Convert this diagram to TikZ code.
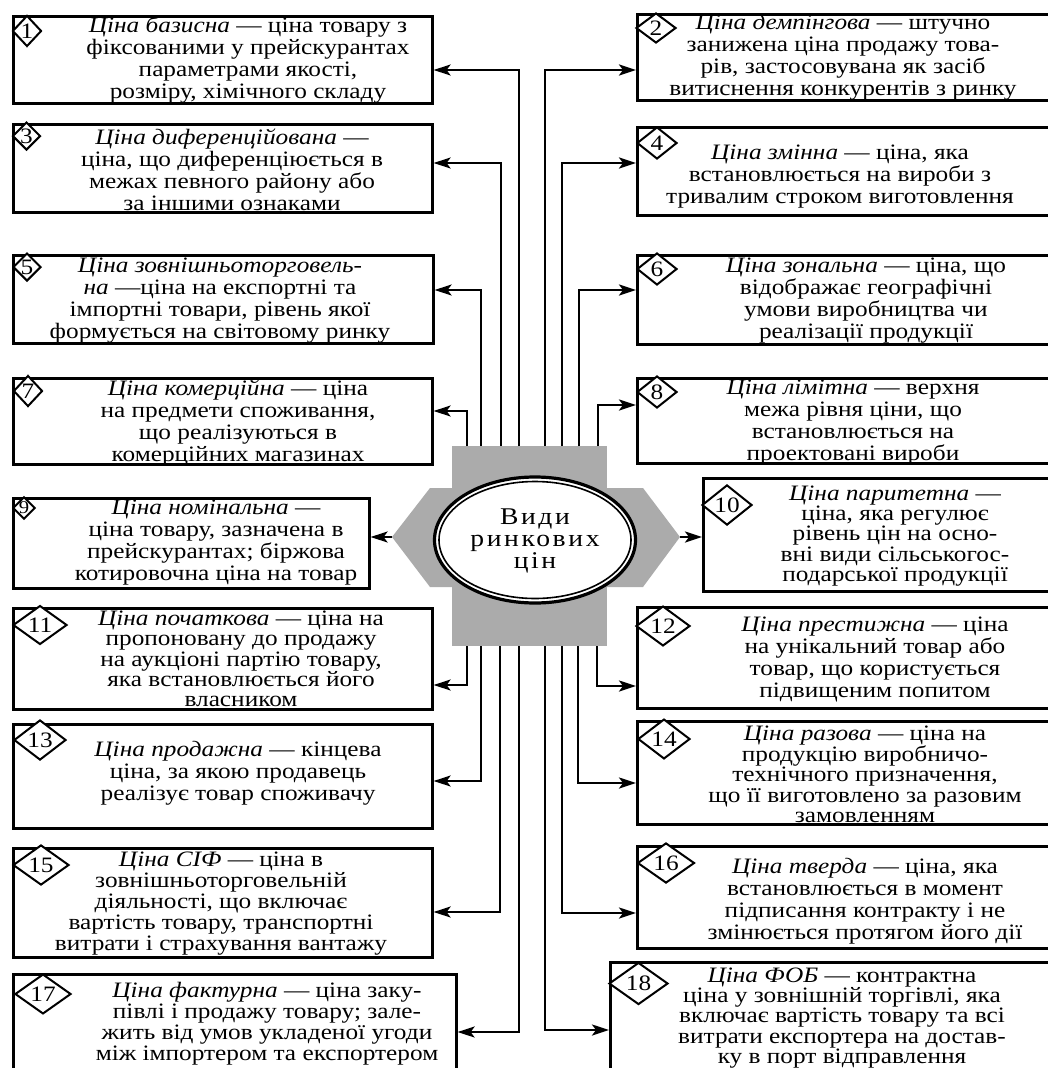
\documentclass[tikz,border=0pt]{standalone}
\usepackage{fontspec}
\setmainfont{Liberation Serif}[FakeStretch=1.15]
\usetikzlibrary{arrows.meta,shapes.geometric}
\definecolor{greyc}{HTML}{ABABAB}
\begin{document}
\begin{tikzpicture}[x=1pt,y=-1pt,
  box/.style={draw, line width=2.6pt, fill=white, anchor=north west, inner sep=0pt},
  txt/.style={align=center, inner sep=0pt, font=\fontsize{22}{22}\selectfont},
  txtfive/.style={txt, font=\fontsize{22}{20.3}\selectfont},
  dia/.style={draw, fill=white, shape=diamond, line width=2pt, inner sep=0pt, font=\fontsize{22}{22}\selectfont},
  dsmall/.style={dia, minimum width=29pt, minimum height=31pt},
  dright/.style={dia, minimum width=40pt, minimum height=32pt},
  dtwo/.style={dia, minimum width=54pt, minimum height=37pt},
  conn/.style={line width=2.4pt, -{Stealth[length=17pt,width=11pt,inset=4pt]}}]
\useasboundingbox (0,0) rectangle (1048,1068);
\clip (0,0) rectangle (1048,1068);
\fill[white] (0,0) rectangle (1048,1068);

% central grey shape
\fill[greyc] (452,446) rectangle (607,646);
\fill[greyc] (392,537) -- (430,488) -- (643,488) -- (680,537) -- (643,587) -- (430,587) -- cycle;
\node[ellipse, draw, line width=3.2pt, fill=white, minimum width=201pt, minimum height=126pt, inner sep=0pt] (c) at (535,540) {};
\draw[line width=1.6pt] (c.center) ellipse [x radius=96pt, y radius=58.5pt];
\node[align=center, inner sep=0pt, font=\fontsize{24}{22}\selectfont\addfontfeatures{LetterSpace=11}] (ct) at (535,541) {Види\\ринкових\\цін};

% boxes
\node[box, minimum width=419pt, minimum height=87pt] (b1) at (12,15) {};
\node[box, minimum width=419pt, minimum height=88pt] (b3) at (12,123) {};
\node[box, minimum width=420pt, minimum height=88pt] (b5) at (12,254) {};
\node[box, minimum width=419pt, minimum height=86pt] (b7) at (12,377) {};
\node[box, minimum width=356pt, minimum height=90pt] (b9) at (12,497) {};
\node[box, minimum width=419pt, minimum height=101pt] (b11) at (12,607) {};
\node[box, minimum width=419pt, minimum height=104pt] (b13) at (12,723) {};
\node[box, minimum width=419pt, minimum height=109pt] (b15) at (12,847) {};
\node[box, minimum width=443pt, minimum height=120pt] (b17) at (12,973) {};
\node[box, minimum width=430pt, minimum height=86pt] (b2) at (636,13) {};
\node[box, minimum width=430pt, minimum height=88pt] (b4) at (636,126) {};
\node[box, minimum width=430pt, minimum height=89pt] (b6) at (636,254) {};
\node[box, minimum width=430pt, minimum height=85pt] (b8) at (636,377) {};
\node[box, minimum width=364pt, minimum height=113pt] (b10) at (702,477) {};
\node[box, minimum width=430pt, minimum height=101pt] (b12) at (636,606) {};
\node[box, minimum width=430pt, minimum height=103pt] (b14) at (636,720) {};
\node[box, minimum width=430pt, minimum height=102pt] (b16) at (636,845) {};
\node[box, minimum width=457pt, minimum height=120pt] (b18) at (609,961) {};

% connector start points on the grey shape
\coordinate (g1) at (519,446);
\coordinate (g3) at (501,446);
\coordinate (g5) at (481,446);
\coordinate (g7) at (467,446);
\coordinate (g2) at (545,446);
\coordinate (g4) at (562,446);
\coordinate (g6) at (579,446);
\coordinate (g8) at (598,446);
\coordinate (g11) at (467,646);
\coordinate (g13) at (481,646);
\coordinate (g15) at (500,646);
\coordinate (g17) at (519,646);
\coordinate (g12) at (597,646);
\coordinate (g14) at (578,646);
\coordinate (g16) at (562,646);
\coordinate (g18) at (545,646);
\coordinate (gl) at (392,537);
\coordinate (gr) at (680,537);

\draw[conn] (g1) |- (b1.east |- 0,70);
\draw[conn] (g3) |- (b3.east |- 0,163);
\draw[conn] (g5) |- (b5.east |- 0,290);
\draw[conn] (g7) |- (b7.east |- 0,411);
\draw[conn] (g2) |- (b2.west |- 0,70);
\draw[conn] (g4) |- (b4.west |- 0,163);
\draw[conn] (g6) |- (b6.west |- 0,290);
\draw[conn] (g8) |- (b8.west |- 0,405);
\draw[conn] (g11) |- (b11.east |- 0,685);
\draw[conn] (g13) |- (b13.east |- 0,781);
\draw[conn] (g15) |- (b15.east |- 0,912);
\draw[conn] (g17) |- (b17.east |- 0,1032);
\draw[conn] (g12) |- (b12.west |- 0,686);
\draw[conn] (g14) |- (b14.west |- 0,783);
\draw[conn] (g16) |- (b16.west |- 0,913);
\draw[conn] (g18) |- (b18.west |- 0,1030);
\draw[conn] (gl) -- (b9.east |- gl);
\draw[conn] (gr) -- (b10.west |- gr);

% diamonds
\node[dsmall] (d1) at (27,31) {1};
\node[dsmall, minimum width=28pt, minimum height=28pt] (d3) at (26.5,136) {3};
\node[dsmall, minimum width=28pt, minimum height=28pt] (d5) at (27,267) {5};
\node[dsmall] (d7) at (28,391) {7};
\node[dia, minimum width=21pt, minimum height=21pt, font=\fontsize{18}{18}\selectfont] (d9) at (24,508) {9};
\node[dright, minimum height=30pt] (d2) at (656,28) {2};
\node[dright] (d4) at (657,143) {4};
\node[dright] (d6) at (657,269) {6};
\node[dright] (d8) at (657,392) {8};
\node[dtwo, minimum width=50pt, minimum height=34pt] (d10) at (727,505) {10};
\node[dtwo] (d11) at (40,625) {11};
\node[dtwo, minimum height=35pt] (d12) at (663,626) {12};
\node[dtwo, minimum width=52pt, minimum height=34pt] (d13) at (40,740) {13};
\node[dtwo, minimum width=52pt] (d14) at (664,739) {14};
\node[dtwo, minimum width=56pt, minimum height=36pt] (d15) at (41,865) {15};
\node[dtwo, minimum width=57pt, minimum height=37pt] (d16) at (666,863) {16};
\node[dtwo, minimum width=56pt, minimum height=39pt] (d17) at (43,994) {17};
\node[dtwo, minimum width=59pt, minimum height=42pt] (d18) at (638.5,983.5) {18};

% texts
\node[txt] (t1) at (248,60) {\textit{Ціна базисна} — ціна товару з\\фіксованими у прейскурантах\\параметрами якості,\\розміру, хімічного складу};
\node[txt] (t2) at (843,57.5) {\textit{Ціна демпінгова} — штучно\\занижена ціна продажу това-\\рів, застосовувана як засіб\\витиснення конкурентів з ринку};
\node[txt] (t3) at (232,170) {\textit{Ціна диференційована} —\\ціна, що диференціюється в\\межах певного району або\\за іншими ознаками};
\node[txt] (t4) at (840,177) {\textit{Ціна змінна} — ціна, яка\\встановлюється на вироби з\\тривалим строком виготовлення};
\node[txt] (t5) at (220,301) {\textit{Ціна зовнішньоторговель-}\\\textit{на} —ціна на експортні та\\імпортні товари, рівень якої\\формується на світовому ринку};
\node[txt] (t6) at (866,301) {\textit{Ціна зональна} — ціна, що\\відображає географічні\\умови виробництва чи\\реалізації продукції};
\node[txt] (t7) at (238,423) {\textit{Ціна комерційна} — ціна\\на предмети споживання,\\що реалізуються в\\комерційних магазинах};
\node[txt] (t8) at (853,423) {\textit{Ціна лімітна} — верхня\\межа рівня ціни, що\\встановлюється на\\проектовані вироби};
\node[txt] (t9) at (216,543) {\textit{Ціна номінальна} —\\ціна товару, зазначена в\\прейскурантах; біржова\\котировочна ціна на товар};
\node[txtfive] (t10) at (895,536) {\textit{Ціна паритетна} —\\ціна, яка регулює\\рівень цін на осно-\\вні види сільськогос-\\подарської продукції};
\node[txtfive] (t11) at (241,659) {\textit{Ціна початкова} — ціна на\\пропоновану до продажу\\на аукціоні партію товару,\\яка встановлюється його\\власником};
\node[txt] (t12) at (875,659) {\textit{Ціна престижна} — ціна\\на унікальний товар або\\товар, що користується\\підвищеним попитом};
\node[txt] (t13) at (238,773) {\textit{Ціна продажна} — кінцева\\ціна, за якою продавець\\реалізує товар споживачу};
\node[txtfive] (t14) at (865,774) {\textit{Ціна разова} — ціна на\\продукцію виробничо-\\технічного призначення,\\що її виготовлено за разовим\\замовленням};
\node[txt, font=\fontsize{22}{21}\selectfont] (t15) at (221,904) {\textit{Ціна СІФ} — ціна в\\зовнішньоторговельній\\діяльності, що включає\\вартість товару, транспортні\\витрати і страхування вантажу};
\node[txt] (t16) at (865,901) {\textit{Ціна тверда} — ціна, яка\\встановлюється в момент\\підписання контракту і не\\змінюється протягом його дії};
\node[txt, font=\fontsize{22}{21}\selectfont] (t17) at (267,1024) {\textit{Ціна фактурна} — ціна заку-\\півлі і продажу товару; зале-\\жить від умов укладеної угоди\\між імпортером та експортером};
\node[txtfive] (t18) at (842,1018) {\textit{Ціна ФОБ} — контрактна\\ціна у зовнішній торгівлі, яка\\включає вартість товару та всі\\витрати експортера на достав-\\ку в порт відправлення};
\end{tikzpicture}
\end{document}
